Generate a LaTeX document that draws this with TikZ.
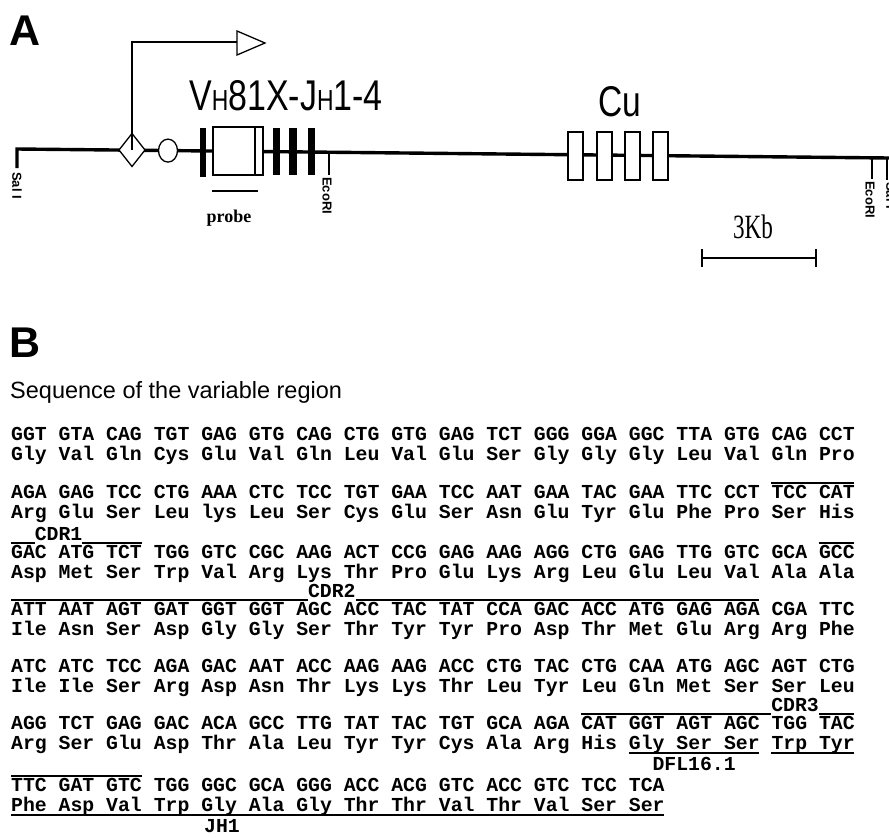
\documentclass[tikz,border=0pt]{standalone}
\usepackage{fontspec}
\setmainfont{Liberation Serif}
\setsansfont{Liberation Sans}
\setmonofont{Liberation Mono}
\begin{document}
\def\cw{11.88}
\def\xo{11}
\tikzset{
  seq/.style={anchor=base west, inner sep=0pt, font=\fontsize{19.8}{20}\selectfont\ttfamily\bfseries},
  lab/.style={anchor=base, inner sep=0pt, font=\fontsize{19.8}{20}\selectfont\ttfamily\bfseries},
  oline/.style={line width=1.6pt},
  uline/.style={line width=1.2pt},
  site/.style={rotate=-90, anchor=west, inner sep=0pt, font=\fontsize{13}{13}\selectfont\sffamily\bfseries},
  sitetick/.style={line width=1.3pt},
  openbox/.style={draw, fill=white, line width=1.3pt},
  panel/.style={anchor=base west, inner sep=0pt, font=\fontsize{43}{43}\selectfont\sffamily\bfseries},
  big/.style={anchor=base, inner sep=0pt, font=\fontsize{43}{43}\selectfont\sffamily},
}
\newcommand\ovl[3]{\draw[oline] ({\xo+#1*\cw},#3) -- ({\xo+#2*\cw},#3);}
\newcommand\uln[3]{\draw[uline] ({\xo+#1*\cw},#3) -- ({\xo+#2*\cw},#3);}
\begin{tikzpicture}[x=1pt,y=-1pt]
\useasboundingbox (0,0) rectangle (889,838);
\clip (0,0) rectangle (889,838);
% ---------------- Panel A ----------------
\node[panel] (labA) at (9,45) {A};
% main line
\draw[line width=3.4pt, line join=miter] (17,168) -- (17,149) -- (889,158);
% promoter arrow
\coordinate (pbase) at (132,150);
\coordinate (ptop) at (132,42);
\coordinate (pend) at (237,42);
\draw[openbox] (119,150) -- (132,133.5) -- (145,150) -- (132,166.5) -- cycle;
\draw[line width=1.3pt] (pbase) -- (ptop) -- (pend);
\draw[openbox] (237,31) -- (265,43) -- (237,55) -- cycle;
% enhancer circle
\draw[openbox] (168,150.6) ellipse [x radius=9.5, y radius=11.5];
% VDJ exons
\fill (200,128) rectangle (205.5,177);
\draw[openbox] (213,127) rectangle (263,175);
\draw[line width=1.3pt] (255,127) -- (255,175);
\fill (273,128) rectangle (280,175);
\fill (289,128) rectangle (296.5,175);
\fill (308,128) rectangle (315,175);
\node[big] (vh) at (286,110) {\scalebox{0.79}[1]{V{\fontsize{29}{29}\selectfont H}81X-J{\fontsize{29}{29}\selectfont H}1-4}};
% probe
\draw[line width=2.5pt] (212,191) -- (258,191);
\node[anchor=base, inner sep=0pt, font=\fontsize{18}{18}\selectfont\bfseries] (probe) at (229,222) {probe};
% Cu exons
\foreach \x in {568,597,625,653}{\draw[openbox] (\x,132) rectangle ++(15,48);}
\node[big] (cu) at (620,116) {\scalebox{0.78}[1]{Cu}};
% restriction sites
\draw[sitetick] (329,152) -- (329,175);
\node[site] (eco1) at (327,177) {EcoRI};
\draw[sitetick] (872,157.8) -- (872,179);
\node[site] (eco2) at (870,181) {EcoRI};
\draw[sitetick] (887,158) -- (887,180);
\node[site] (sal2) at (891,182) {Sal I};
\node[site] (sal1) at (17,172) {Sal I};
% scale bar
\draw[line width=1.5pt] (702,258) -- (816,258);
\draw[line width=1.5pt] (702,249) -- (702,267);
\draw[line width=1.5pt] (816,249) -- (816,267);
\node[anchor=base, inner sep=0pt, font=\fontsize{34}{34}\selectfont] (kb) at (753,238) {\scalebox{0.68}[1]{3Kb}};
% ---------------- Panel B ----------------
\node[panel] (labB) at (9,357) {B};
\node[anchor=base west, inner sep=0pt, font=\fontsize{23.5}{24}\selectfont\sffamily] (title) at (10,398) {Sequence of the variable region};
% row 1
\node[seq] (d1) at (\xo,440) {GGT GTA CAG TGT GAG GTG CAG CTG GTG GAG TCT GGG GGA GGC TTA GTG CAG CCT};
\node[seq] (a1) at (\xo,460) {Gly Val Gln Cys Glu Val Gln Leu Val Glu Ser Gly Gly Gly Leu Val Gln Pro};
% row 2
\ovl{64}{71}{483}
\node[seq] (d2) at (\xo,498) {AGA GAG TCC CTG AAA CTC TCC TGT GAA TCC AAT GAA TAC GAA TTC CCT TCC CAT};
\node[seq] (a2) at (\xo,518) {Arg Glu Ser Leu lys Leu Ser Cys Glu Ser Asn Glu Tyr Glu Phe Pro Ser His};
% row 3 with CDR1
\ovl{0}{2}{543}
\node[lab] (cdr1) at ({\xo+4*\cw},540) {CDR1};
\ovl{6}{11}{543}
\ovl{68}{71}{543}
\node[seq] (d3) at (\xo,558) {GAC ATG TCT TGG GTC CGC AAG ACT CCG GAG AAG AGG CTG GAG TTG GTC GCA GCC};
\node[seq] (a3) at (\xo,578) {Asp Met Ser Trp Val Arg Lys Thr Pro Glu Lys Arg Leu Glu Leu Val Ala Ala};
% row 4 with CDR2
\ovl{0}{25}{600}
\node[lab] (cdr2) at ({\xo+27*\cw},597) {CDR2};
\ovl{29}{63}{600}
\node[seq] (d4) at (\xo,615) {ATT AAT AGT GAT GGT GGT AGC ACC TAC TAT CCA GAC ACC ATG GAG AGA CGA TTC};
\node[seq] (a4) at (\xo,635) {Ile Asn Ser Asp Gly Gly Ser Thr Tyr Tyr Pro Asp Thr Met Glu Arg Arg Phe};
% row 5
\node[seq] (d5) at (\xo,672) {ATC ATC TCC AGA GAC AAT ACC AAG AAG ACC CTG TAC CTG CAA ATG AGC AGT CTG};
\node[seq] (a5) at (\xo,692) {Ile Ile Ser Arg Asp Asn Thr Lys Lys Thr Leu Tyr Leu Gln Met Ser Ser Leu};
% row 6 with CDR3
\ovl{48}{64}{714}
\node[lab] (cdr3) at ({\xo+66*\cw},711) {CDR3};
\ovl{68}{71}{714}
\node[seq] (d6) at (\xo,729) {AGG TCT GAG GAC ACA GCC TTG TAT TAC TGT GCA AGA CAT GGT AGT AGC TGG TAC};
\node[seq] (a6) at (\xo,749) {Arg Ser Glu Asp Thr Ala Leu Tyr Tyr Cys Ala Arg His Gly Ser Ser Trp Tyr};
\uln{52}{63}{753}
\uln{64}{71}{753}
\node[lab] (dfl) at ({\xo+57.5*\cw},770) {DFL16.1};
% row 7
\ovl{0}{11}{776}
\node[seq] (d7) at (\xo,791) {TTC GAT GTC TGG GGC GCA GGG ACC ACG GTC ACC GTC TCC TCA};
\node[seq] (a7) at (\xo,811) {Phe Asp Val Trp Gly Ala Gly Thr Thr Val Thr Val Ser Ser};
\uln{0}{55}{815}
\node[lab] (jh1) at (222,832) {JH1};
\end{tikzpicture}
\end{document}
